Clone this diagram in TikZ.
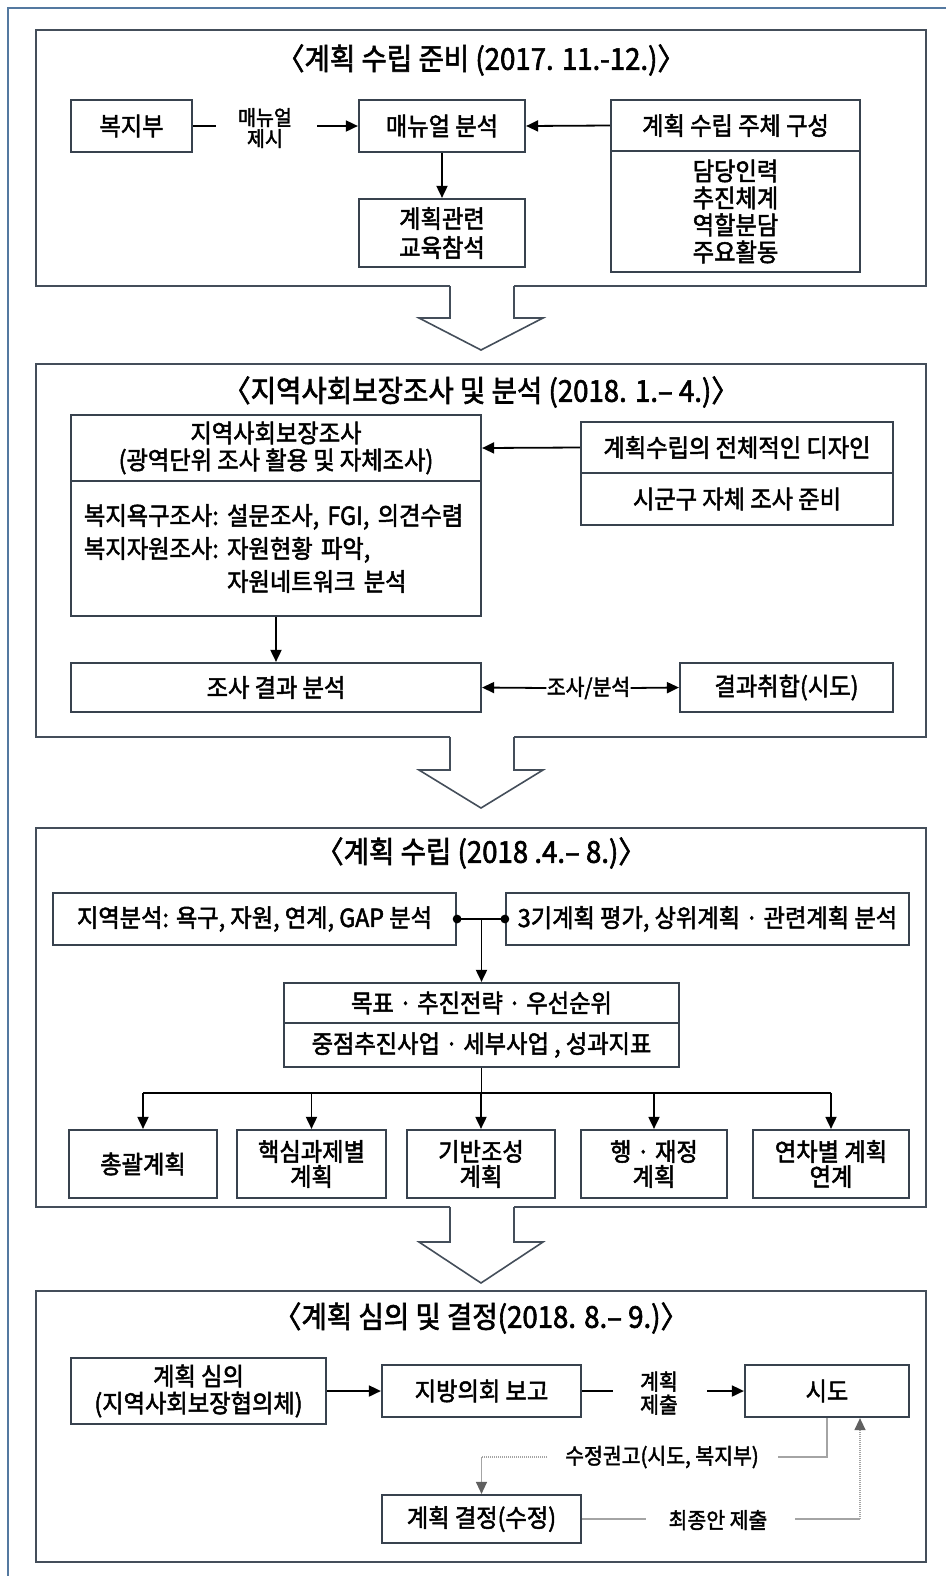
\documentclass[tikz,border=0pt]{standalone}
\usepackage{fontspec}
\setmainfont{Noto Sans CJK KR}[FakeStretch=0.93, FakeBold=2]
\newfontfamily\ttlfont{Noto Sans CJK KR}[FakeStretch=0.92, FakeBold=2]
\usetikzlibrary{arrows.meta}
\definecolor{boxc}{HTML}{38424E}
\definecolor{secc}{HTML}{444E5A}
\definecolor{framec}{HTML}{5479A0}
\definecolor{grayc}{HTML}{A4A4A4}
\definecolor{grayt}{HTML}{606060}
\newcommand{\hollowarrow}[3]{%
  \fill[white] (450,#1-3) rectangle (514,#2);
  \fill[white] (419,#2) -- (481,#3) -- (543,#2) -- cycle;
  \draw[draw=secc, line width=0.8pt, line join=miter] (450,#1) -- (450,#2) -- (419,#2) -- (481,#3) -- (543,#2) -- (514,#2) -- (514,#1);
}
\begin{document}
\begin{tikzpicture}[x=0.5pt,y=-0.5pt,
  every node/.style={font=\fontsize{12.5}{13.5}\selectfont, text=black},
  sz/.style 2 args={minimum width=#1*0.5pt, minimum height=#2*0.5pt},
  box/.style={draw=boxc, line width=1.1pt, fill=white, inner sep=0pt, align=center},
  sec/.style={draw=secc, line width=1.1pt, inner sep=0pt},
  ttl/.style={font=\ttlfont\fontsize{15}{16}\selectfont, inner sep=0pt},
  lbl/.style={font=\fontsize{11}{11.5}\selectfont, align=center, inner sep=0pt},
  ln/.style={line width=0.9pt},
  arr/.style={line width=0.9pt, -{Triangle[length=6pt,width=5.5pt]}},
  gl/.style={draw=grayc, line width=0.65pt},
  ga/.style={draw=grayc, line width=0.65pt, -{Triangle[length=6pt,width=5.5pt,color=grayt]}},
  dots/.style={dash pattern=on 0.5pt off 0.5pt}
]
\useasboundingbox (0,0) rectangle (946,1576);
\fill[white] (0,0) rectangle (946,1576);
% outer frame (cropped at right and bottom)
\draw[framec, line width=1.1pt] (8,1580) -- (8,8) -- (950,8);

% ---------- section boxes ----------
\node[sec, sz={890}{256}] (sec1) at (481,158) {};
\node[sec, sz={890}{373}] (sec2) at (481,550.5) {};
\node[sec, sz={890}{379}] (sec3) at (481,1017.5) {};
\node[sec, sz={890}{271}] (sec4) at (481,1426.5) {};

% ---------- hollow arrows ----------
\hollowarrow{286}{318}{350}
\hollowarrow{737}{770}{808}
\hollowarrow{1207}{1242}{1283}

% ---------- section 1 ----------
\node[ttl] (t1) at (481,60) {〈계획 수립 준비 (2017. 11.-12.)〉};
\node[box, sz={121}{52}] (bokji) at (131.5,126) {복지부};
\node[box, sz={166}{52}] (manual) at (442,126) {매뉴얼 분석};
\node[box, sz={249}{51}] (comph) at (735.5,125.5) {계획 수립 주체 구성};
\node[box, sz={249}{121}] (compb) at (735.5,211.5) {담당인력\\추진체계\\역할분담\\주요활동};
\node[box, sz={166}{68}, font=\fontsize{12.5}{14.5}\selectfont] (edu) at (442,233) {계획관련\\교육참석};
\node[lbl, font=\fontsize{10.5}{10.5}\selectfont] (mlbl) at (265,128) {매뉴얼\\제시};
\coordinate (m1) at (216,126);
\coordinate (m2) at (317,126);
\draw[ln] (bokji.east) -- (m1);
\draw[arr] (m2) -- (manual.west);
\draw[arr] (comph.west) -- (manual.east);
\draw[arr] (manual.south) -- (edu.north);

% ---------- section 2 ----------
\node[ttl] (t2) at (481,392) {〈지역사회보장조사 및 분석 (2018. 1.– 4.)〉};
\node[box, sz={410}{66}] (survh) at (276,448) {지역사회보장조사\\(광역단위 조사 활용 및 자체조사)};
\node[box, sz={410}{135}, text width=192pt, align=left, font=\fontsize{12.5}{16.5}\selectfont] (survb) at (276,548.5)
  {복지욕구조사:\ 설문조사, FGI, 의견수렴\\복지자원조사:\ 자원현황 파악,\\\phantom{복지자원조사:\ }자원네트워크 분석};
\node[box, sz={312}{51}] (design) at (737,447.5) {계획수립의 전체적인 디자인};
\node[box, sz={312}{52}] (prep) at (737,499) {시군구 자체 조사 준비};
\node[box, sz={410}{49}] (anal) at (276,687.5) {조사 결과 분석};
\node[box, sz={213}{49}] (coll) at (786.5,687.5) {결과취합(시도)};
\node[lbl] (sb) at (588.5,688) {조사/분석};
\draw[arr] (design.west) -- (survh.east);
\draw[arr] (survb.south) -- (anal.north);
\draw[arr] (sb.west) -- (anal.east);
\draw[arr] (sb.east) -- (coll.west);

% ---------- section 3 ----------
\node[ttl] (t3) at (481,853) {〈계획 수립 (2018 .4.– 8.)〉};
\node[box, sz={403}{52}] (local) at (254.5,919) {지역분석: 욕구, 자원, 연계, GAP 분석};
\node[box, sz={403}{52}] (third) at (707.5,919) {3기계획 평가, 상위계획 · 관련계획 분석};
\node[box, sz={395}{40}] (goal1) at (481.5,1003) {목표 · 추진전략 · 우선순위};
\node[box, sz={395}{44}] (goal2) at (481.5,1045) {중점추진사업 · 세부사업 , 성과지표};
\coordinate (j) at (481.5,919);
\draw[ln] (local.east) -- (third.west);
\fill (local.east) circle[radius=2.2pt];
\fill (third.west) circle[radius=2.2pt];
\draw[arr] (j) -- (goal1.north);
\node[box, sz={148}{68}, font=\fontsize{12.5}{12.5}\selectfont] (b1) at (143,1164) {총괄계획};
\node[box, sz={149}{68}, font=\fontsize{12.5}{12.5}\selectfont] (b2) at (311.5,1164) {핵심과제별\\계획};
\node[box, sz={148}{68}, font=\fontsize{12.5}{12.5}\selectfont] (b3) at (481,1164) {기반조성\\계획};
\node[box, sz={146}{68}, font=\fontsize{12.5}{12.5}\selectfont] (b4) at (654,1164) {행 · 재정\\계획};
\node[box, sz={156}{68}, font=\fontsize{12.5}{12.5}\selectfont] (b5) at (831,1164) {연차별 계획\\연계};
\coordinate (barM) at (481.5,1093);
\coordinate (barL) at (143,1093);
\coordinate (barR) at (831,1093);
\draw[ln] (goal2.south) -- (barM);
\draw[ln] (barL) -- (barR);
\foreach \b in {b1,b2,b3,b4,b5} {\draw[arr] (\b.north |- barL) -- (\b.north);}

% ---------- section 4 ----------
\node[ttl] (t4) at (481,1318) {〈계획 심의 및 결정(2018. 8.– 9.)〉};
\node[box, sz={255}{66}] (review) at (198.5,1391) {계획 심의\\(지역사회보장협의체)};
\node[box, sz={199}{52}] (council) at (481.5,1391) {지방의회 보고};
\node[box, sz={164}{52}] (sido) at (827,1391) {시도};
\node[box, sz={199}{48}] (decide) at (481.5,1519) {계획 결정(수정)};
\draw[arr] (review.east) -- (council.west);
\node[lbl] (sub) at (659,1393) {계획\\제출};
\coordinate (s1) at (613,1391);
\coordinate (s2) at (707,1391);
\draw[ln] (council.east) -- (s1);
\draw[arr] (s2) -- (sido.west);
\node[lbl] (rec) at (662,1457) {수정권고(시도, 복지부)};
\coordinate (r1) at (827,1457);
\coordinate (r2) at (778,1457);
\coordinate (r3) at (547,1457);
\coordinate (r4) at (481.5,1457);
\draw[gl] (sido.south) -- (r1) -- (r2);
\draw[gl, dots] (r3) -- (r4);
\draw[ga] (r4) -- (decide.north);
\node[lbl] (fin) at (718,1520) {최종안 제출};
\coordinate (f1) at (646,1519);
\coordinate (f2) at (795,1519);
\coordinate (f3) at (860,1519);
\draw[gl] (decide.east) -- (f1);
\draw[gl] (f2) -- (f3);
\draw[ga, dots] (f3) -- (sido.south -| f3);
\end{tikzpicture}
\end{document}
